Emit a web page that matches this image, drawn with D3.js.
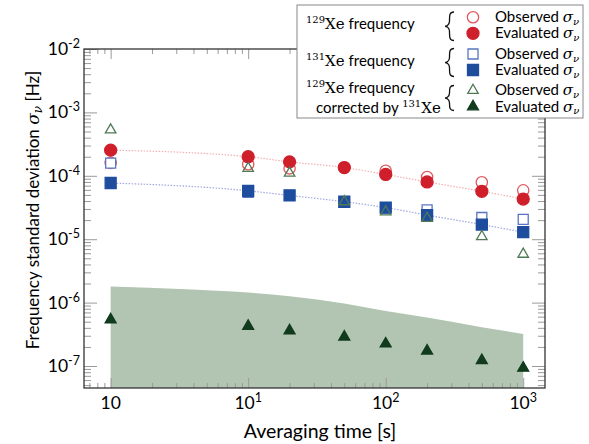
<!DOCTYPE html>
<html>
<head>
<meta charset="utf-8">
<script src="https://cdn.jsdelivr.net/npm/d3@7"></script>
<style>
  body { margin: 0; background: #fff; }
  svg { display: block; }
</style>
</head>
<body>
<svg id="chart"></svg>
<script>
// Graph Dimensions
const width = 589;
const height = 444;

// plot frame
const margin = { top: 49, right: 44, bottom: 56, left: 84 };

// averaging times [s]
const tau = [1, 10, 20, 50, 100, 200, 500, 1000];

// 129Xe frequency
const xe129Observed = [1.6e-4, 1.52e-4, 1.31e-4, 1.35e-4, 1.2e-4, 9.6e-5, 7.9e-5, 5.9e-5];
const xe129Evaluated = [2.54e-4, 2.0e-4, 1.66e-4, 1.35e-4, 1.05e-4, 8.0e-5, 5.7e-5, 4.3e-5];

// 131Xe frequency
const xe131Observed = [1.58e-4, 5.5e-5, 4.9e-5, 3.8e-5, 3.1e-5, 2.9e-5, 2.2e-5, 2.05e-5];
const xe131Evaluated = [7.7e-5, 5.8e-5, 4.9e-5, 3.9e-5, 3.16e-5, 2.4e-5, 1.7e-5, 1.29e-5];

// 129Xe corrected by 131Xe
const corrObserved = [5.3e-4, 1.31e-4, 1.1e-4, 3.9e-5, 2.7e-5, 2.14e-5, 1.1e-5, 5.8e-6];
const corrEvaluated = [5.4e-7, 4.26e-7, 3.6e-7, 2.88e-7, 2.24e-7, 1.73e-7, 1.23e-7, 9.3e-8];

// upper edge of the shaded band
const bandTau = [1, 3.56, 10, 20, 50, 100, 200, 500, 1000];
const bandUpper = [1.8e-6, 1.62e-6, 1.44e-6, 1.26e-6, 9.7e-7, 7.4e-7, 5.8e-7, 4.1e-7, 3.2e-7];

// tick labels
const xTicks = [1, 10, 100, 1000];
const xTickLabels = [["10", ""], ["10", "1"], ["10", "2"], ["10", "3"]];
const yTicks = [1e-2, 1e-3, 1e-4, 1e-5, 1e-6, 1e-7];
const yTickLabels = ["-2", "-3", "-4", "-5", "-6", "-7"];

const sans = "Lato, 'Open Sans', sans-serif";
const serif = "'DejaVu Serif', 'Liberation Serif', serif";

const svg = d3.select("#chart").attr("width", width).attr("height", height);

const xScale = d3.scaleLog()
	.domain([0.64, 1440])
	.range([margin.left, width - margin.right]);

const yScale = d3.scaleLog()
	.domain([4.5e-8, 1e-2])
	.range([height - margin.bottom, margin.top]);

// shaded band
const band = bandTau.map((t, i) => [t, bandUpper[i]]);
svg.append("path")
	.datum(band)
	.attr("fill", "#b2c5b2")
	.attr("d", d3.area()
		.x((d) => xScale(d[0]))
		.y0(yScale(yScale.domain()[0]))
		.y1((d) => yScale(d[1]))
		.curve(d3.curveMonotoneX));

// AXES (ticks pointing inward, mirrored)
const minorX = xScale.ticks().filter((t) => !xTicks.includes(t));
const minorY = yScale.ticks().filter((t) => !yTicks.some((m) => Math.abs(m - t) / m < 1e-6));

function axisGroup(axis, tx, ty) {
	const g = svg.append("g")
		.attr("transform", `translate(${tx}, ${ty})`)
		.call(axis);
	g.select(".domain").remove();
	g.selectAll("line").attr("stroke", "#9a9a9a").attr("stroke-width", 1);
	return g;
}

const bottomY = height - margin.bottom;
const rightX = width - margin.right;

axisGroup(d3.axisBottom(xScale).tickValues(xTicks).tickSize(-10).tickFormat(""), 0, bottomY);
axisGroup(d3.axisBottom(xScale).tickValues(minorX).tickSize(-5).tickFormat(""), 0, bottomY);
axisGroup(d3.axisTop(xScale).tickValues(xTicks).tickSize(-10).tickFormat(""), 0, margin.top);
axisGroup(d3.axisTop(xScale).tickValues(minorX).tickSize(-5).tickFormat(""), 0, margin.top);
axisGroup(d3.axisLeft(yScale).tickValues(yTicks).tickSize(-13).tickFormat(""), margin.left, 0);
axisGroup(d3.axisLeft(yScale).tickValues(minorY).tickSize(-7).tickFormat(""), margin.left, 0);
axisGroup(d3.axisRight(yScale).tickValues(yTicks).tickSize(-13).tickFormat(""), rightX, 0);
axisGroup(d3.axisRight(yScale).tickValues(minorY).tickSize(-7).tickFormat(""), rightX, 0);

// frame
svg.append("rect")
	.attr("x", margin.left)
	.attr("y", margin.top)
	.attr("width", rightX - margin.left)
	.attr("height", bottomY - margin.top)
	.attr("fill", "none")
	.attr("stroke", "#333")
	.attr("stroke-width", 1.3);

// tick labels
const xLab = svg.append("g")
	.selectAll("text")
	.data(xTicks)
	.join("text")
	.attr("x", (d) => xScale(d))
	.attr("y", 409)
	.attr("text-anchor", "middle")
	.attr("font-family", sans)
	.attr("font-size", 17.5)
	.attr("fill", "#000");
xLab.append("tspan").text((d, i) => xTickLabels[i][0]);
xLab.append("tspan")
	.attr("dy", -7)
	.attr("font-size", 12.5)
	.text((d, i) => xTickLabels[i][1]);

const yLab = svg.append("g")
	.selectAll("text")
	.data(yTicks)
	.join("text")
	.attr("x", 80)
	.attr("y", (d) => yScale(d) + 6)
	.attr("text-anchor", "end")
	.attr("font-family", sans)
	.attr("font-size", 17.5)
	.attr("fill", "#000");
yLab.append("tspan").text("10");
yLab.append("tspan")
	.attr("dy", -7)
	.attr("font-size", 12.5)
	.text((d, i) => yTickLabels[i]);

// axis titles
svg.append("text")
	.attr("x", 320)
	.attr("y", 438)
	.attr("text-anchor", "middle")
	.attr("font-family", sans)
	.attr("font-size", 19.5)
	.attr("fill", "#000")
	.text("Averaging time [s]");

const yTitle = svg.append("text")
	.attr("transform", "translate(39, 210) rotate(-90)")
	.attr("text-anchor", "middle")
	.attr("font-family", sans)
	.attr("font-size", 17)
	.attr("fill", "#000");
yTitle.append("tspan").text("Frequency standard deviation ");
yTitle.append("tspan").attr("font-family", serif).attr("font-style", "italic").text("σ");
yTitle.append("tspan").attr("font-family", serif).attr("font-style", "italic")
	.attr("font-size", 12).attr("dy", 3).text("ν");
yTitle.append("tspan").attr("dy", -3).text(" [Hz]");

// fit lines
const fitLine = d3.line()
	.x((d) => xScale(d[0]))
	.y((d) => yScale(d[1]))
	.curve(d3.curveMonotoneX);

svg.append("path")
	.datum(tau.map((t, i) => [t, xe129Evaluated[i]]))
	.attr("fill", "none")
	.attr("stroke", "#f3b0b3")
	.attr("stroke-width", 1.2)
	.attr("stroke-dasharray", "1.5,1.5")
	.attr("d", fitLine);

svg.append("path")
	.datum(tau.map((t, i) => [t, xe131Evaluated[i]]))
	.attr("fill", "none")
	.attr("stroke", "#a2a7e0")
	.attr("stroke-width", 1.2)
	.attr("stroke-dasharray", "1.5,1.5")
	.attr("d", fitLine);

// series styles
const series = [
	{ values: xe129Observed, type: d3.symbolCircle, size: 100, fill: "#fff", stroke: "#e05a5e" },
	{ values: xe129Evaluated, type: d3.symbolCircle, size: 113, fill: "#cf1f2b", stroke: "#cf1f2b" },
	{ values: xe131Observed, type: d3.symbolSquare, size: 100, fill: "#fff", stroke: "#5a74c4" },
	{ values: xe131Evaluated, type: d3.symbolSquare, size: 121, fill: "#1f4d9e", stroke: "#1f4d9e" },
	{ values: corrObserved, type: d3.symbolTriangle, size: 48, fill: "none", stroke: "#4f7a55" },
	{ values: corrEvaluated, type: d3.symbolTriangle, size: 52, fill: "#103b1c", stroke: "#103b1c" },
];

series.forEach((s) => {
	svg.append("g")
		.selectAll("path")
		.data(s.values)
		.join("path")
		.attr("transform", (d, i) => `translate(${xScale(tau[i])}, ${yScale(d)})`)
		.attr("d", d3.symbol().type(s.type).size(s.size))
		.attr("fill", s.fill)
		.attr("stroke", s.stroke)
		.attr("stroke-width", 1.3);
});

// LEGEND
const legend = svg.append("g");
legend.append("rect")
	.attr("x", 297)
	.attr("y", 5)
	.attr("width", 286)
	.attr("height", 113)
	.attr("fill", "#fff")
	.attr("stroke", "#888")
	.attr("stroke-width", 1);

const legendRows = [17.3, 33.3, 54, 70, 90.3, 106.7];
legendRows.forEach((ry, i) => {
	const s = series[i];
	legend.append("path")
		.attr("transform", `translate(473, ${ry})`)
		.attr("d", d3.symbol().type(s.type).size(s.size))
		.attr("fill", s.fill)
		.attr("stroke", s.stroke)
		.attr("stroke-width", 1.3);

	const t = legend.append("text")
		.attr("x", 495)
		.attr("y", ry + 5)
		.attr("font-family", sans)
		.attr("font-size", 15)
		.attr("fill", "#000");
	t.append("tspan").text(i % 2 === 0 ? "Observed " : "Evaluated ");
	t.append("tspan").attr("font-family", serif).attr("font-style", "italic").text("σ");
	t.append("tspan").attr("font-family", serif).attr("font-style", "italic")
		.attr("font-size", 10).attr("dy", 2.5).text("ν");
});

// group labels
function isotopeLabel(x, y, mass, before, after) {
	const t = legend.append("text")
		.attr("x", x)
		.attr("y", y)
		.attr("font-family", sans)
		.attr("font-size", 15)
		.attr("fill", "#000");
	if (before) t.append("tspan").text(before);
	t.append("tspan").attr("font-family", serif).attr("font-size", 10).attr("dy", -6).text(mass);
	t.append("tspan").attr("font-family", serif).attr("font-size", 15).attr("dy", 6).text("Xe");
	if (after) t.append("tspan").text(after);
}
isotopeLabel(306, 29.3, "129", null, " frequency");
isotopeLabel(306, 66, "131", null, " frequency");
isotopeLabel(306, 93.3, "129", null, " frequency");
isotopeLabel(316, 113.3, "131", "corrected by ", null);

// braces
const braces = [[12, 40.5], [48.5, 76.5], [85.5, 110.5]];
braces.forEach(([y0, y1]) => {
	const ym = (y0 + y1) / 2;
	const xr = 454, xl = 449.5, xt = 445;
	legend.append("path")
		.attr("d", `M${xr},${y0} C${xl},${y0} ${xl},${y0 + 3} ${xl},${ym - 5}` +
			` C${xl},${ym - 1} ${xt + 1},${ym} ${xt},${ym}` +
			` C${xt + 1},${ym} ${xl},${ym + 1} ${xl},${ym + 5}` +
			` C${xl},${y1 - 3} ${xl},${y1} ${xr},${y1}`)
		.attr("fill", "none")
		.attr("stroke", "#111")
		.attr("stroke-width", 1.3);
});
</script>
</body>
</html>
